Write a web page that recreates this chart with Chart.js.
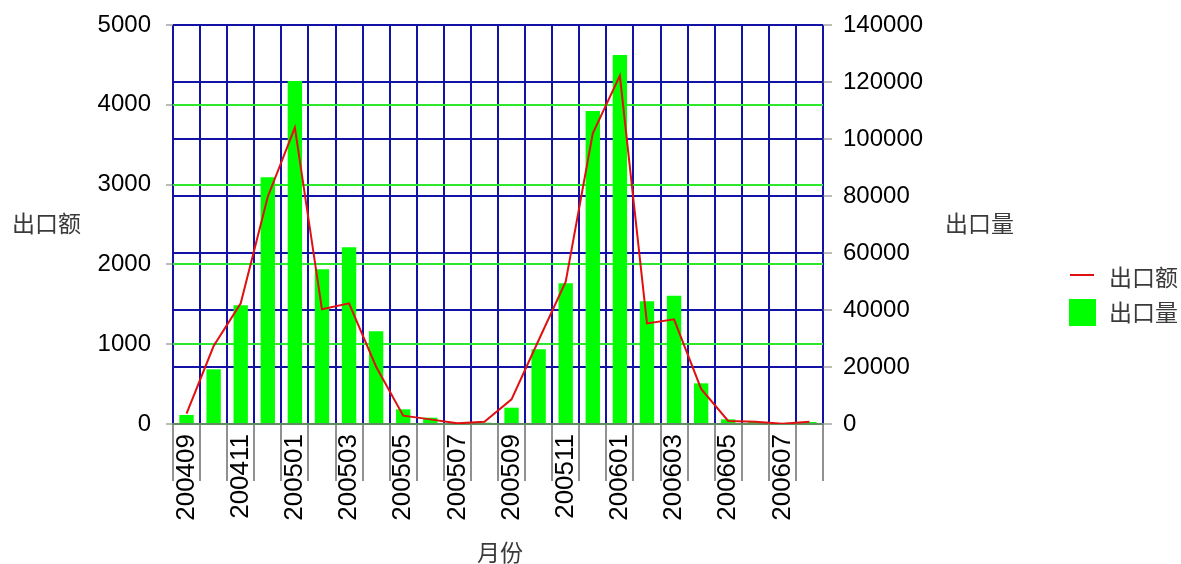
<!DOCTYPE html>
<html>
<head>
<meta charset="utf-8">
<script src="https://cdn.jsdelivr.net/npm/chart.js@4/dist/chart.umd.min.js"></script>
<style>
  html, body { margin: 0; padding: 0; background: #fff; }
  #wrap { position: relative; width: 1181px; height: 564px; overflow: hidden; }
  canvas { position: absolute; left: 0; top: 0; }
  .t { position: absolute; font-family: "Noto Sans CJK SC", sans-serif; font-size: 23px; color: #3a3a3a; line-height: 1; white-space: nowrap; }
  .sw { position: absolute; }
</style>
</head>
<body>
<div id="wrap">
  <canvas id="c" width="1181" height="564"></canvas>
  <div class="t" id="tl" style="left:12px; top:211px;">出口额</div>
  <div class="t" id="tr" style="left:945px; top:211px;">出口量</div>
  <div class="t" id="tx" style="left:477px; top:540px;">月份</div>
  <div class="sw" style="left:1070px; top:274px; width:24px; height:2px; background:#e01010;"></div>
  <div class="t" style="left:1109px; top:265px;">出口额</div>
  <div class="sw" style="left:1069px; top:299px; width:27px; height:27px; background:#00ff00;"></div>
  <div class="t" style="left:1109px; top:300px;">出口量</div>
</div>
<script>
const categories = ['200409','200410','200411','200412','200501','200502','200503','200504','200505','200506','200507','200508',
                    '200509','200510','200511','200512','200601','200602','200603','200604','200605','200606','200607','200608'];
const exportAmount = [130, 977, 1512, 2848, 3713, 1437, 1512, 718, 104, 58, 8, 29,
                      309, 1050, 1783, 3642, 4365, 1261, 1312, 439, 38, 29, 4, 29];
const exportVolume = [3160, 19190, 41650, 86560, 120350, 54280, 62000, 32520, 5150, 2220, 350, 450,
                      5720, 26200, 49360, 109820, 129470, 43040, 45030, 14270, 1640, 700, 300, 700];
const leftTicks = [0, 1000, 2000, 3000, 4000, 5000];
const rightTicks = [0, 20000, 40000, 60000, 80000, 100000, 120000, 140000];

const tickFont = { family: 'Liberation Sans, Arial, sans-serif', size: 24 };
const plain = (v) => String(v);

new Chart(document.getElementById('c'), {
  type: 'bar',
  data: {
    labels: categories,
    datasets: [
      {
        type: 'line',
        label: '出口额',
        data: exportAmount,
        yAxisID: 'y',
        borderColor: '#e01010',
        backgroundColor: '#e01010',
        borderWidth: 2,
        pointRadius: 0,
        tension: 0,
        fill: false,
        order: 0
      },
      {
        type: 'bar',
        label: '出口量',
        data: exportVolume,
        yAxisID: 'y1',
        backgroundColor: '#00ff00',
        borderWidth: 0,
        categoryPercentage: 1.0,
        barPercentage: 0.53,
        order: 1
      }
    ]
  },
  options: {
    responsive: false,
    animation: false,
    layout: { padding: { top: 25, left: 0, right: 0, bottom: 0 } },
    plugins: { legend: { display: false }, tooltip: { enabled: false } },
    scales: {
      x: {
        type: 'category',
        offset: true,
        grid: { offset: true, color: '#1212a8', lineWidth: 2, drawTicks: true, tickLength: 57, tickColor: '#222', tickWidth: 1 },
        border: { display: true, color: '#5f8f5f', width: 2 },
        ticks: {
          autoSkip: false,
          minRotation: 90,
          maxRotation: 90,
          padding: -47,
          color: '#000',
          font: { family: 'Liberation Sans, Arial, sans-serif', size: 26 },
          callback: function (value, index) { return index % 2 === 0 ? this.getLabelForValue(value) : ''; }
        },
        afterFit: (s) => { s.height = 140; s.paddingLeft = 0; s.paddingRight = 0; }
      },
      y: {
        position: 'left',
        min: 0, max: 5000,
        afterBuildTicks: (s) => { s.ticks = leftTicks.map(v => ({ value: v })); },
        grid: { color: '#2ee82e', lineWidth: 2, tickLength: 7, tickColor: '#777', tickWidth: 1 },
        border: { display: false },
        ticks: { padding: 15, color: '#000', font: tickFont, callback: plain },
        afterFit: (s) => { s.width = 173; s.paddingTop = 0; s.paddingBottom = 0; }
      },
      y1: {
        position: 'right',
        min: 0, max: 140000,
        afterBuildTicks: (s) => { s.ticks = rightTicks.map(v => ({ value: v })); },
        grid: { color: '#1212a8', lineWidth: 2, tickLength: 9, tickColor: '#777', tickWidth: 1, drawOnChartArea: true },
        border: { display: false },
        ticks: { padding: 11, color: '#000', font: tickFont, callback: plain },
        afterFit: (s) => { s.width = 358; s.paddingTop = 0; s.paddingBottom = 0; }
      }
    }
  }
});
</script>
</body>
</html>
